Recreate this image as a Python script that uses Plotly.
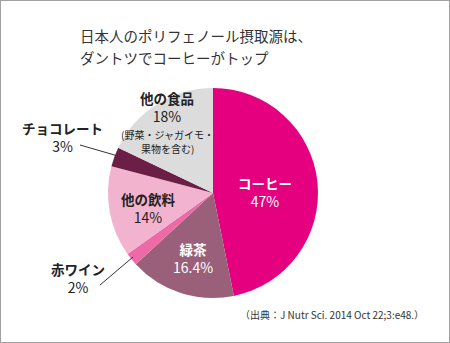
import plotly.graph_objects as go

categories = ["コーヒー", "緑茶", "赤ワイン", "他の飲料", "チョコレート", "他の食品"]
values = [47, 16.4, 2, 14, 3, 18]
notes = [[], [], [], [], [], ["(野菜・ジャガイモ・", "果物を含む)"]]
colors = ["#E4007F", "#9A6079", "#EE6AA7", "#F2B3CE", "#6B1F47", "#DCDCDC"]
title_lines = ["日本人のポリフェノール摂取源は、", "ダントツでコーヒーがトップ"]
source = "（出典：J Nutr Sci. 2014 Oct 22;3:e48.）"

W, H = 450, 343
cx, cy, r = 213, 193, 105

fig = go.Figure(go.Pie(
    labels=categories, values=values, sort=False, direction="clockwise", rotation=0,
    marker=dict(colors=colors, line=dict(width=0)), textinfo="none", hoverinfo="label+percent",
    domain=dict(x=[(cx - r) / W, (cx + r) / W], y=[(H - cy - r) / H, (H - cy + r) / H]),
    showlegend=False,
))

FONT = "Noto Sans CJK JP"

def px(x, y):
    return x / W, 1 - y / H

# label centre (pixels, midpoint of the two lines) and colours per category
label_pos = {
    "コーヒー": (265, 192, "white"),
    "緑茶": (193, 258, "white"),
    "赤ワイン": (78, 278, "#222"),
    "他の飲料": (148, 208, "#222"),
    "チョコレート": (62, 137, "#222"),
    "他の食品": (167, 107, "#222"),
}

annotations = []
for cat, val, note in zip(categories, values, notes):
    x, y, col = label_pos[cat]
    ax, ay = px(x, y)
    annotations.append(dict(x=ax, y=ay, xref="paper", yref="paper",
                            text=f"<b><span style='font-size:13.5px'>{cat}</span></b><br>{val:g}%",
                            showarrow=False, font=dict(family=FONT, size=14, color=col),
                            xanchor="center", yanchor="middle"))
    for j, nline in enumerate(note):
        ax, ay = px(x, y + 27 + 14.5 * j)
        annotations.append(dict(x=ax, y=ay, xref="paper", yref="paper", text=nline,
                                showarrow=False, font=dict(family=FONT, size=10, color=col),
                                xanchor="center", yanchor="middle", borderpad=0))

for i, line in enumerate(title_lines):
    ax, ay = px(78, 35 + 22 * i)
    annotations.append(dict(x=ax, y=ay, xref="paper", yref="paper", text=line, showarrow=False,
                            font=dict(family=FONT, size=14.5, color="#333"),
                            xanchor="left", yanchor="middle"))

ax, ay = px(426, 314)
annotations.append(dict(x=ax, y=ay, xref="paper", yref="paper", text=source, showarrow=False,
                        font=dict(family=FONT, size=10, color="#333"),
                        xanchor="right", yanchor="middle"))

shapes = [
    dict(type="rect", xref="paper", yref="paper", x0=0, y0=0, x1=1, y1=1,
         line=dict(color="#A0A0A0", width=2)),
    dict(type="line", xref="paper", yref="paper",
         x0=80 / W, y0=1 - 145 / H, x1=118 / W, y1=1 - 156 / H, line=dict(color="#333", width=1)),
    dict(type="line", xref="paper", yref="paper",
         x0=100 / W, y0=1 - 285 / H, x1=133 / W, y1=1 - 257 / H, line=dict(color="#333", width=1)),
]

fig.update_layout(width=W, height=H, margin=dict(l=0, r=0, t=0, b=0),
                  paper_bgcolor="white", plot_bgcolor="white",
                  annotations=annotations, shapes=shapes)

fig.write_html("out.html", config={"displayModeBar": False})
